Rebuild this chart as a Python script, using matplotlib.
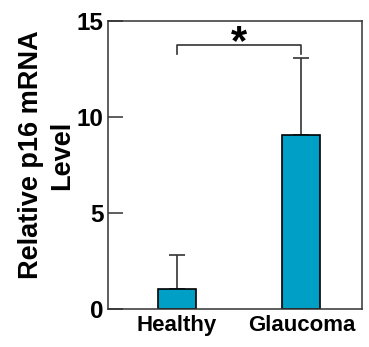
import matplotlib
matplotlib.use("Agg")
import matplotlib.pyplot as plt

groups = ["Healthy", "Glaucoma"]
means = [1.04, 9.08]
upper_err = [1.75, 4.0]
y_ticks = [0, 5, 10, 15]

bar_color = "#00a0c6"
line_color = "#333333"

plt.rcParams["font.family"] = ["Liberation Sans", "DejaVu Sans"]
plt.rcParams["font.weight"] = "bold"

fig = plt.figure(figsize=(3.69, 3.47), dpi=100)
ax = fig.add_axes([0.2927, 0.1095, 0.6883, 0.83])

x = range(len(groups))
ax.bar(x, means, width=0.305, color=bar_color, edgecolor="black", linewidth=1.2, zorder=2)
ax.errorbar(x, means, yerr=[[0] * len(means), upper_err], fmt="none",
            ecolor=line_color, elinewidth=1.2, capsize=6, capthick=1.2, zorder=1)

# significance bracket
ax.plot([0, 0, 1, 1], [13.3, 13.73, 13.73, 13.3], color=line_color, lw=1.2)
ax.text(0.5, 13.83, "*", ha="center", va="center", fontsize=30, fontweight="bold")

ax.set_xlim(-0.554, 1.486)
ax.set_ylim(0, 15)
ax.set_xticks(list(x))
ax.set_xticklabels(groups, fontsize=16, fontweight="bold")
ax.set_yticks(y_ticks)
ax.set_yticklabels([str(t) for t in y_ticks], fontsize=17.5, fontweight="bold")
ax.tick_params(axis="y", direction="in", length=10.5, width=1.1, color=line_color, pad=3)
ax.tick_params(axis="x", length=0, pad=4)
for s in ax.spines.values():
    s.set_color(line_color)
    s.set_linewidth(1.1)

ax.set_ylabel("Relative p16 mRNA\nLevel", fontsize=19.5, fontweight="bold", linespacing=1.25)
ax.yaxis.set_label_coords(-0.13, 0.535)

fig.savefig("out.png", dpi=100)
